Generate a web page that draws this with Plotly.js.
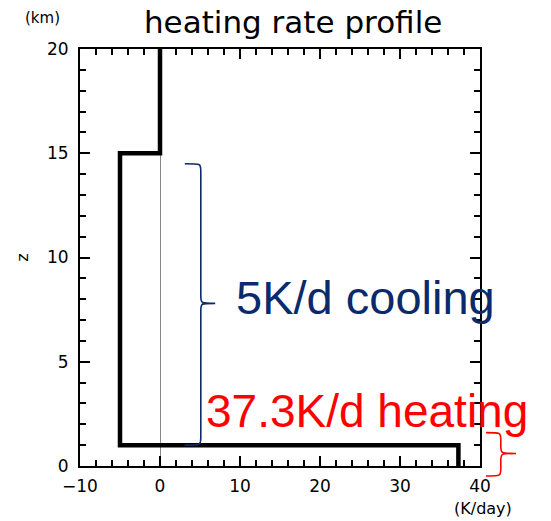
<!DOCTYPE html>
<html>
<head>
<meta charset="utf-8">
<script src="https://cdn.plot.ly/plotly-3.0.1.min.js"></script>
<style>html,body{margin:0;padding:0;background:#fff;}#chart{width:551px;height:521px;}</style>
</head>
<body>
<div id="chart"></div>
<script>
// Heating-rate profile (K/day) vs height (km)
const heatingRate = [0, 0, -5, -5, 37.3, 37.3];
const heightKm    = [20, 15, 15, 1, 1, 0];

const xTickVals = [-10, 0, 10, 20, 30, 40];
const xTickText = ['\u221210', '0', '10', '20', '30', '40'];
const xMinorTicks = [-8, -6, -4, -2, 2, 4, 6, 8, 12, 14, 16, 18, 22, 24, 26, 28, 32, 34, 36, 38];
const yTickVals = [0, 5, 10, 15, 20];
const yTickText = ['0', '5', '10', '15', '20'];
const yMinorTicks = [1, 2, 3, 4, 6, 7, 8, 9, 11, 12, 13, 14, 16, 17, 18, 19];

const coolingLabel = '5K/d cooling';
const heatingLabel = '37.3K/d heating';

// brace annotations: [hookX, spineX, tipX, yTop, yTip, yBottom]
const coolingBrace = [3.1, 5.1, 6.9, 14.5, 7.8, 1.0];
const heatingBrace = [40.75, 42.6, 44.5, 1.6, 0.6, -0.48];

const XR = [-10, 40], YR = [0, 20];
function px(x){ return (x - XR[0]) / (XR[1] - XR[0]); }
function py(y){ return (y - YR[0]) / (YR[1] - YR[0]); }
function bracePath(b){
  const [h, s, t, y0, ym, y1] = b;
  const d = 0.35;
  const P = (x, y) => px(x).toFixed(5) + ',' + py(y).toFixed(5);
  return 'M' + P(h, y0) +
    ' C' + P(s, y0) + ' ' + P(s, y0) + ' ' + P(s, y0 - d) +
    ' L' + P(s, ym + d) +
    ' C' + P(s, ym) + ' ' + P(s, ym) + ' ' + P(t, ym) +
    ' C' + P(s, ym) + ' ' + P(s, ym) + ' ' + P(s, ym - d) +
    ' L' + P(s, y1 + d) +
    ' C' + P(s, y1) + ' ' + P(s, y1) + ' ' + P(h, y1);
}

const axisFont = {family: 'DejaVu Sans', size: 17, color: '#000'};

const traces = [
  {x: heatingRate, y: heightKm, type: 'scatter', mode: 'lines',
   line: {color: '#000', width: 4.5}, hoverinfo: 'skip', showlegend: false},
  // carrier for the minor-tick axes (draws nothing)
  {x: [0], y: [0], xaxis: 'x2', yaxis: 'y2', type: 'scatter', mode: 'lines',
   hoverinfo: 'skip', showlegend: false}
];

const majorCommon = {
  ticks: 'inside', ticklen: 10, tickwidth: 2, tickcolor: '#000',
  showline: true, linecolor: '#000', linewidth: 2, mirror: 'allticks',
  showgrid: false, tickfont: axisFont
};
const minorCommon = {
  ticks: 'inside', ticklen: 6, tickwidth: 1.5, tickcolor: '#000',
  showline: true, linecolor: '#000', linewidth: 2, mirror: 'allticks',
  showgrid: false, zeroline: false, showticklabels: false
};

const layout = {
  width: 551, height: 521,
  margin: {l: 80, r: 71, t: 49, b: 55},
  paper_bgcolor: '#fff', plot_bgcolor: '#fff',
  title: {text: 'heating rate profile', font: {family: 'DejaVu Sans', size: 31, color: '#000'},
          x: 0.532, xanchor: 'center', y: 0.958, yanchor: 'middle', xref: 'container', yref: 'container'},
  xaxis: Object.assign({}, majorCommon, {
    range: XR, tickmode: 'array', tickvals: xTickVals, ticktext: xTickText,
    zeroline: true, zerolinecolor: '#888', zerolinewidth: 1, ticklabelstandoff: 4
  }),
  yaxis: Object.assign({}, majorCommon, {
    range: YR, tickmode: 'array', tickvals: yTickVals, ticktext: yTickText,
    zeroline: false, ticklabelstandoff: 6,
    title: {text: 'z', font: {family: 'DejaVu Sans', size: 16, color: '#000'}, standoff: 14}
  }),
  xaxis2: Object.assign({}, minorCommon, {
    overlaying: 'x', side: 'bottom', anchor: 'y2', range: XR, tickmode: 'array', tickvals: xMinorTicks
  }),
  yaxis2: Object.assign({}, minorCommon, {
    overlaying: 'y', side: 'left', anchor: 'x2', range: YR, tickmode: 'array', tickvals: yMinorTicks
  }),
  shapes: [
    {type: 'path', xref: 'paper', yref: 'paper', path: bracePath(coolingBrace),
     line: {color: '#0b2a6b', width: 1.6}, layer: 'above'},
    {type: 'path', xref: 'paper', yref: 'paper', path: bracePath(heatingBrace),
     line: {color: '#ff0000', width: 1.6}, layer: 'above'}
  ],
  annotations: [
    {text: coolingLabel, xref: 'x', yref: 'y', x: 9.3, y: 8.1, xanchor: 'left', yanchor: 'middle',
     showarrow: false, font: {family: 'Liberation Sans', size: 47, color: '#0b2a6b'}},
    {text: heatingLabel, xref: 'x', yref: 'y', x: 5.5, y: 2.65, xanchor: 'left', yanchor: 'middle',
     showarrow: false, font: {family: 'Liberation Sans', size: 46, color: '#ff0000'}},
    {text: '(km)', xref: 'paper', yref: 'paper', x: -0.095, y: 1.074, xanchor: 'center', yanchor: 'middle',
     showarrow: false, font: {family: 'DejaVu Sans', size: 15, color: '#000'}},
    {text: '(K/day)', xref: 'paper', yref: 'paper', x: 1.0075, y: -0.103, xanchor: 'center', yanchor: 'middle',
     showarrow: false, font: {family: 'DejaVu Sans', size: 16, color: '#000'}}
  ]
};

Plotly.newPlot('chart', traces, layout, {displayModeBar: false});
</script>
</body>
</html>
